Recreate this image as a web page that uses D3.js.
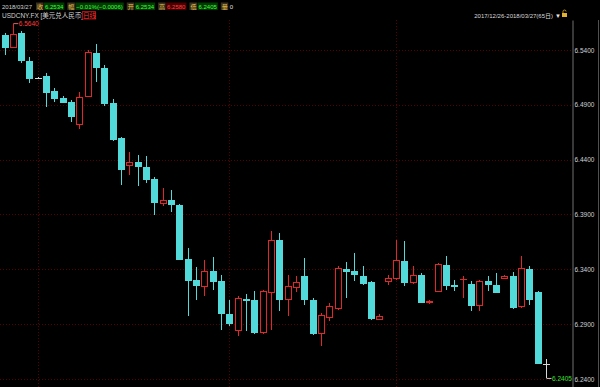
<!DOCTYPE html>
<html>
<head>
<meta charset="utf-8">
<script src="https://cdn.jsdelivr.net/npm/d3@7"></script>
<style>
  body { margin: 0; background: #000; overflow: hidden; }
  text { font-family: "Liberation Sans", Arial, "Noto Sans CJK SC", sans-serif; }
</style>
</head>
<body>
<script>

var width = 600, height = 387;

// trading days, 2017/12/26 - 2018/03/27
var dates = [
  "2017/12/26","2017/12/27","2017/12/28","2017/12/29",
  "2018/01/01","2018/01/02","2018/01/03","2018/01/04","2018/01/05",
  "2018/01/08","2018/01/09","2018/01/10","2018/01/11","2018/01/12",
  "2018/01/15","2018/01/16","2018/01/17","2018/01/18","2018/01/19",
  "2018/01/22","2018/01/23","2018/01/24","2018/01/25","2018/01/26",
  "2018/01/29","2018/01/30","2018/01/31",
  "2018/02/01","2018/02/02","2018/02/05","2018/02/06","2018/02/07","2018/02/08","2018/02/09",
  "2018/02/12","2018/02/13","2018/02/14","2018/02/15","2018/02/16",
  "2018/02/19","2018/02/20","2018/02/21","2018/02/22","2018/02/23",
  "2018/02/26","2018/02/27","2018/02/28",
  "2018/03/01","2018/03/02","2018/03/05","2018/03/06","2018/03/07","2018/03/08","2018/03/09",
  "2018/03/12","2018/03/13","2018/03/14","2018/03/15","2018/03/16",
  "2018/03/19","2018/03/20","2018/03/21","2018/03/22","2018/03/23",
  "2018/03/26","2018/03/27"
];

var open = [
  6.5536, 6.5424, 6.5557, 6.5302, 6.5142, 6.5166, 6.5026, 6.4965, 6.4923, 6.4732,
  6.4981, 6.5370, 6.5233, 6.4914, 6.4596, 6.4352, 6.4377, 6.4337, 6.4222, 6.4006,
  6.4034, 6.3988, 6.3494, 6.3305, 6.3244, 6.3381, 6.3290, 6.2993, 6.2850, 6.3129,
  6.3117, 6.2825, 6.3199, 6.3663, 6.3129, 6.3241, 6.3335, 6.3123, 6.2820, 6.2971,
  6.3047, 6.3405, 6.3381, 6.3342, 6.3284, 6.2954, 6.3296, 6.3321, 6.3478, 6.3290,
  6.3351, 6.3096, 6.3205, 6.3442, 6.3260, 6.3310, 6.3266, 6.3077, 6.3296, 6.3260,
  6.3323, 6.3335, 6.3062, 6.3405, 6.3191, 6.2534
];
var high = [
  6.5555, 6.5640, 6.5575, 6.5333, 6.5149, 6.5188, 6.5051, 6.4981, 6.4944, 6.5020,
  6.5400, 6.5454, 6.5263, 6.4951, 6.4607, 6.4474, 6.4443, 6.4434, 6.4246, 6.4143,
  6.4125, 6.3997, 6.3594, 6.3421, 6.3487, 6.3512, 6.3351, 6.3123, 6.3153, 6.3177,
  6.3199, 6.3214, 6.3745, 6.3730, 6.3351, 6.3342, 6.3503, 6.3141, 6.3005, 6.3096,
  6.3426, 6.3463, 6.3548, 6.3426, 6.3296, 6.2995, 6.3351, 6.3669, 6.3654, 6.3426,
  6.3369, 6.3123, 6.3460, 6.3517, 6.3305, 6.3335, 6.3290, 6.3305, 6.3335, 6.3366,
  6.3351, 6.3378, 6.3517, 6.3426, 6.3205, 6.2580
];
var low = [
  6.5354, 6.5418, 6.5279, 6.5096, 6.5136, 6.4883, 6.4929, 6.4917, 6.4747, 6.4678,
  6.4972, 6.5111, 6.4890, 6.4571, 6.4170, 6.4261, 6.4155, 6.4186, 6.3891, 6.3973,
  6.3927, 6.3483, 6.2971, 6.3123, 6.3153, 6.3214, 6.2850, 6.2880, 6.2789, 6.2834,
  6.2813, 6.2813, 6.2850, 6.3016, 6.2977, 6.3196, 6.3077, 6.2804, 6.2698, 6.2925,
  6.3032, 6.3138, 6.3290, 6.3260, 6.2941, 6.2941, 6.3260, 6.3305, 6.3244, 6.3266,
  6.3096, 6.3087, 6.3196, 6.3214, 6.3199, 6.3138, 6.3016, 6.3016, 6.3199, 6.3184,
  6.3314, 6.3041, 6.3050, 6.3077, 6.2535, 6.2405
];
var close = [
  6.5424, 6.5545, 6.5315, 6.5151, 6.5142, 6.5020, 6.4960, 6.4929, 6.4792, 6.4974,
  6.5384, 6.5242, 6.4914, 6.4589, 6.4313, 6.4382, 6.4337, 6.4231, 6.4013, 6.4034,
  6.3997, 6.3494, 6.3305, 6.3260, 6.3381, 6.3290, 6.2995, 6.2911, 6.3138, 6.3117,
  6.2825, 6.3199, 6.3669, 6.3123, 6.3244, 6.3287, 6.3123, 6.2820, 6.2986, 6.3068,
  6.3412, 6.3387, 6.3351, 6.3275, 6.2956, 6.2977, 6.3319, 6.3487, 6.3290, 6.3351,
  6.3102, 6.3109, 6.3448, 6.3260, 6.3255, 6.3314, 6.3077, 6.3296, 6.3266, 6.3199,
  6.3337, 6.3053, 6.3412, 6.3132, 6.2540, 6.2534
];

var priceTicks = [6.24, 6.29, 6.34, 6.39, 6.44, 6.49, 6.54];
var monthStarts = ["2018/01/01", "2018/02/01", "2018/03/01"];

var upColor = "#e02828",
    downColor = "#52dada",
    flatColor = "#d8d8d8",
    gridColor = "#5a0000";

var fmt = d3.format(".4f");

var svg = d3.select("body").append("svg")
    .attr("width", width)
    .attr("height", height)
    .style("background", "#000");

var x = d3.scalePoint().domain(dates).range([4.5, 546]);
var y = d3.scaleLinear().domain([6.2327, 6.5673]).range([387, 20]);

// grid (dark red, dotted)
svg.append("g").selectAll("line")
  .data(priceTicks)
  .enter().append("line")
    .attr("x1", 0).attr("x2", 572)
    .attr("y1", function(d) { return Math.round(y(d)) + 0.5; })
    .attr("y2", function(d) { return Math.round(y(d)) + 0.5; })
    .attr("stroke", gridColor)
    .style("stroke-dasharray", "1, 2");

svg.append("g").selectAll("line")
  .data(monthStarts)
  .enter().append("line")
    .attr("x1", function(d) { return Math.round(x(d)) + 0.5; })
    .attr("x2", function(d) { return Math.round(x(d)) + 0.5; })
    .attr("y1", 20).attr("y2", height)
    .attr("stroke", gridColor)
    .style("stroke-dasharray", "1, 2");

// candles
var candles = d3.range(dates.length).map(function(i) {
  return {date: dates[i], o: open[i], h: high[i], l: low[i], c: close[i]};
});

function colorOf(d) {
  return d.c > d.o ? upColor : (d.c < d.o ? downColor : flatColor);
}

var g = svg.append("g").attr("shape-rendering", "crispEdges");

var k = g.selectAll(".candle")
  .data(candles)
  .enter().append("g")
    .attr("class", "candle");

// wicks
k.append("line")
    .attr("x1", function(d) { return Math.round(x(d.date)) + 0.5; })
    .attr("x2", function(d) { return Math.round(x(d.date)) + 0.5; })
    .attr("y1", function(d) { return y(d.h); })
    .attr("y2", function(d) { return y(d.l); })
    .attr("stroke", colorOf);

// bodies: up = hollow red, down = filled cyan
k.append("rect")
    .attr("x", function(d) { return Math.round(x(d.date)) - 3 + 0.5; })
    .attr("y", function(d) { return Math.round(y(Math.max(d.o, d.c))) + 0.5; })
    .attr("width", 6)
    .attr("height", function(d) { return Math.max(0.01, Math.round(Math.abs(y(d.o) - y(d.c)))); })
    .attr("fill", function(d) { return d.c > d.o ? "#000" : colorOf(d); })
    .attr("stroke", colorOf);

// highest / lowest markers
var iMax = d3.maxIndex(high), iMin = d3.minIndex(low);

svg.append("path")
    .attr("d", "M" + (x(dates[iMax]) + 0.5) + "," + y(high[iMax]) + "h5")
    .attr("stroke", "#e06060").attr("fill", "none");
svg.append("text")
    .attr("x", x(dates[iMax]) + 6).attr("y", y(high[iMax]) + 2.5)
    .attr("font-size", 6.5).attr("fill", "#ff3c3c")
    .text(fmt(high[iMax]));

svg.append("path")
    .attr("d", "M" + (x(dates[iMin]) + 0.5) + "," + y(low[iMin]) + "h5")
    .attr("stroke", "#c8c8c8").attr("fill", "none");
svg.append("text")
    .attr("x", x(dates[iMin]) + 6).attr("y", y(low[iMin]) + 2.5)
    .attr("font-size", 6.5).attr("fill", "#30e030")
    .text(fmt(low[iMin]));

// price axis
var yAxis = d3.axisRight(y)
    .tickValues(priceTicks)
    .tickFormat(fmt)
    .tickSize(0)
    .tickPadding(2);

var ax = svg.append("g")
    .attr("transform", "translate(572.5,0)")
    .call(yAxis);
ax.select(".domain").attr("stroke", "#707070");
ax.selectAll("text").attr("fill", "#d0d0d0").attr("font-size", 6.5)
    .style("font-family", "'Liberation Sans', Arial, sans-serif");

svg.append("line")
    .attr("x1", 598.5).attr("x2", 598.5).attr("y1", 20).attr("y2", height)
    .attr("stroke", "#505050");

// header line 1: last bar quote
var n = dates.length - 1;
var prev = close[n - 1];
var chg = close[n] - prev;

var fields = [
  ["收", fmt(close[n]), close[n] - prev],
  ["幅", d3.format(".2f")(chg / prev * 100) + "%(" + fmt(chg) + ")", chg],
  ["开", fmt(open[n]), open[n] - prev],
  ["高", fmt(high[n]), high[n] - prev],
  ["低", fmt(low[n]), low[n] - prev],
  ["量", "0", 0]
];

var hdr = svg.append("g").attr("font-size", 6);

hdr.append("text").attr("x", 2).attr("y", 8.5).attr("fill", "#d0d0d0").text(dates[n]);

var cx = 37;
fields.forEach(function(f) {
  hdr.append("rect").attr("x", cx - 1).attr("y", 2.5).attr("width", 7.5).attr("height", 7.5)
      .attr("fill", "#3a3020");
  hdr.append("text").attr("x", cx).attr("y", 8.5).attr("fill", "#e8c040").text(f[0]);
  var t = hdr.append("text").attr("x", cx + 8).attr("y", 8.5).text(f[1]);
  var w = t.node().getComputedTextLength();
  var up = f[2] > 0, down = f[2] < 0;
  hdr.insert("rect", function() { return t.node(); })
      .attr("x", cx + 7).attr("y", 2.5).attr("width", w + 2).attr("height", 7.5)
      .attr("fill", up ? "#4a0000" : (down ? "#003a00" : "#000"));
  t.attr("fill", up ? "#ff4040" : (down ? "#40ff40" : "#e0e0e0"));
  cx += 8 + w + 5;
});

// header line 2: symbol
hdr.append("text").attr("x", 2).attr("y", 17.5).attr("fill", "#d0d0d0").attr("font-size", 6.5)
    .text("USDCNY.FX [美元兑人民币]");
hdr.append("rect").attr("x", 82.5).attr("y", 11.5).attr("width", 13).attr("height", 7.5)
    .attr("fill", "none").attr("stroke", "#a01010");
hdr.append("text").attr("x", 83).attr("y", 17.5).attr("fill", "#ff3030").attr("font-size", 6.5)
    .text("日线");

// top right: range
hdr.append("text").attr("x", 553).attr("y", 17.5).attr("text-anchor", "end")
    .attr("fill", "#d8d8d8")
    .text("2017/12/26-2018/03/27(65日)");
hdr.append("text").attr("x", 555).attr("y", 17.5).attr("fill", "#e8e8e8")
    .text("▼");
hdr.append("rect").attr("x", 562).attr("y", 13).attr("width", 5).attr("height", 4).attr("fill", "#e0b030");
hdr.append("path").attr("d", "M563,13v-1.5a1.5,1.5 0 0 1 3,0")
    .attr("stroke", "#e0b030").attr("fill", "none").attr("stroke-width", 0.8);

</script>
</body>
</html>
